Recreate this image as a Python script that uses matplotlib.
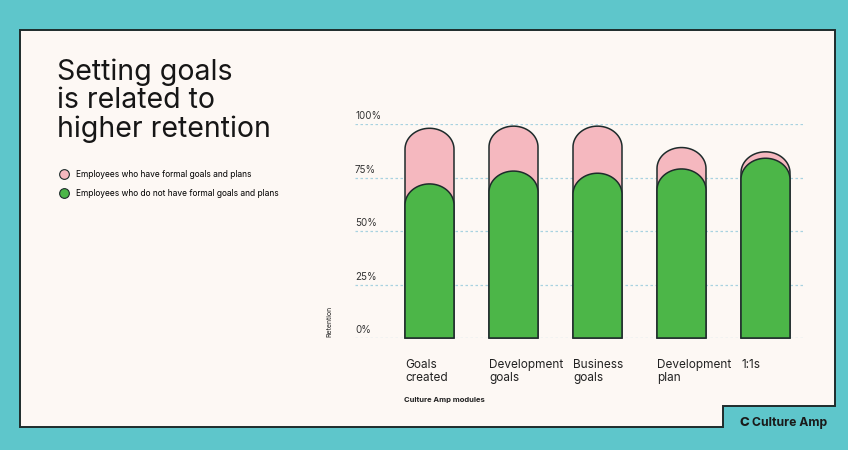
import numpy as np
import matplotlib
matplotlib.use('Agg')
import matplotlib.pyplot as plt
from matplotlib.patches import Polygon, PathPatch
from matplotlib.path import Path
from matplotlib.lines import Line2D
from matplotlib.transforms import blended_transform_factory

plt.rcParams['font.family'] = ['Inter', 'DejaVu Sans']

# data
modules = ['Goals\ncreated', 'Development\ngoals', 'Business\ngoals', 'Development\nplan', '1:1s']
with_goals = [98, 99, 99, 89, 87]
without_goals = [72, 78, 77, 79, 84]
yticks = [0, 25, 50, 75, 100]

TEAL = '#5EC6CB'
CREAM = '#FDF8F4'
PINK = '#F5B8BF'
GREEN = '#4CB648'
DARK = '#1E2B2B'

W, H = 848, 450
fig = plt.figure(figsize=(W / 100, H / 100), dpi=100)
fig.patch.set_facecolor(TEAL)

def fx(x):
    return x / W

def fy(y):
    return 1 - y / H

# card with notch at bottom right
card_pts = [(20, 30), (835, 30), (835, 406), (723, 406), (723, 427), (20, 427)]
card = Polygon([(fx(x), fy(y)) for x, y in card_pts], closed=True,
               transform=fig.transFigure, facecolor=CREAM, edgecolor=DARK, lw=1.4,
               zorder=-5)
fig.patches.append(card)

# axes: 0% at y=338px, 100% at y=124px
ax_left, ax_right = 355, 803
ax_top, ax_bot = 124, 338
ax = fig.add_axes([fx(ax_left), fy(ax_bot), (ax_right - ax_left) / W, (ax_bot - ax_top) / H])
ax.set_zorder(2)
ax.set_facecolor('none')
spacing = 84.0
first_center = 429.5
ax.set_xlim((ax_left - first_center) / spacing, (ax_right - first_center) / spacing)
ax.set_ylim(0, 100)
for s in ax.spines.values():
    s.set_visible(False)
ax.set_xticks([])
ax.set_yticks(yticks)
ax.tick_params(left=False, labelleft=False)
ax.grid(axis='y', color='#A8D2E0', linestyle=(0, (2, 2)), lw=0.9)

bar_w = 49 / spacing
px_per_y = (ax_bot - ax_top) / 100.0
cap = 21 / px_per_y


def capped_bar(x, top, color, z):
    x0, x1 = x - bar_w / 2, x + bar_w / 2
    t = np.linspace(np.pi, 0, 40)
    arc = np.column_stack([x + bar_w / 2 * np.cos(t), top - cap + cap * np.sin(t)])
    verts = np.vstack([[x0, 0], arc, [x1, 0], [x0, 0]])
    codes = [Path.MOVETO] + [Path.LINETO] * (len(verts) - 2) + [Path.CLOSEPOLY]
    p = PathPatch(Path(verts, codes), facecolor=color, edgecolor=DARK, lw=1.1,
                  zorder=z, clip_on=False)
    ax.add_patch(p)


for i, (a, b) in enumerate(zip(with_goals, without_goals)):
    capped_bar(i, a, PINK, 2)
    capped_bar(i, b, GREEN, 3)

# y tick labels sit above the lines
trans_y = blended_transform_factory(ax.transAxes, ax.transData)
for v in yticks:
    ax.text(0.0, v + 1.2, f'{v}%', transform=trans_y, ha='left', va='bottom',
            fontsize=7, color='#333333')

# x labels aligned to bar left edges
trans_x = ax.get_xaxis_transform()
for i, lab in enumerate(modules):
    ax.text(i - bar_w / 2, -0.098, lab, transform=trans_x, ha='left', va='top',
            fontsize=8.5, color='#222222', linespacing=1.15)

fig.text(fx(404), fy(400), 'Culture Amp modules', fontsize=5.5, fontweight='bold',
         color='#222222', ha='left', va='center')
fig.text(fx(329), fy(321), 'Retention', fontsize=5, rotation=90, color='#222222',
         ha='center', va='center')

# title
fig.text(fx(57), fy(58), 'Setting goals\nis related to\nhigher retention', fontsize=20.5,
         color='#161616', ha='left', va='top', linespacing=1.08)

# legend
handles = [
    Line2D([], [], marker='o', ls='none', markersize=7, markerfacecolor=PINK,
           markeredgecolor=DARK, markeredgewidth=0.8),
    Line2D([], [], marker='o', ls='none', markersize=7, markerfacecolor=GREEN,
           markeredgecolor=DARK, markeredgewidth=0.8),
]
fig.legend(handles, ['Employees who have formal goals and plans',
                     'Employees who do not have formal goals and plans'],
           loc='upper left', bbox_to_anchor=(fx(60), fy(170)), frameon=False,
           fontsize=6.05, handletextpad=0.9, labelspacing=1.15, handlelength=1.0,
           borderpad=0, borderaxespad=0)

# logo
fig.text(fx(739), fy(423), 'C', fontsize=9.5, fontweight='heavy', color='#1A1A1A',
         ha='left', va='center')
fig.text(fx(752), fy(423), 'Culture Amp', fontsize=8.8, fontweight='bold', color='#1A1A1A',
         ha='left', va='center')

fig.savefig('out.png', dpi=100, facecolor=TEAL)
